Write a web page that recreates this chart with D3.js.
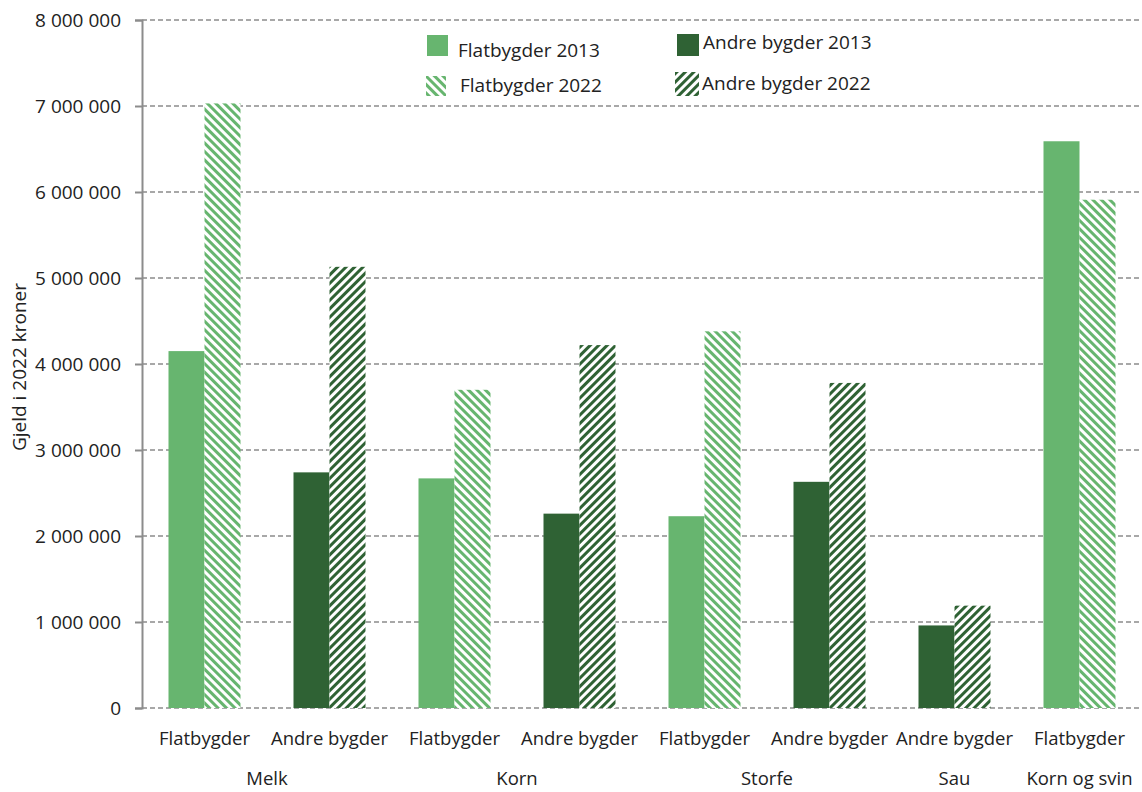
<!DOCTYPE html>
<meta charset="utf-8">
<script src="https://d3js.org/d3.v7.min.js"></script>
<style>
  body { margin: 0; background: #fff; }
  text { font-family: "Open Sans", "Noto Sans", sans-serif; fill: #222; }
</style>
<div id="chart"></div>
<script>

// categories (lower / upper axis labels)
var regions = ["Flatbygder", "Andre bygder", "Flatbygder", "Andre bygder", "Flatbygder", "Andre bygder", "Andre bygder", "Flatbygder"];
var productions = ["Melk", "Melk", "Korn", "Korn", "Storfe", "Storfe", "Sau", "Korn og svin"];
var groupNames = ["Melk", "Korn", "Storfe", "Sau", "Korn og svin"];

// debt values, 2022 kroner
var debt2013 = [4150000, 2740000, 2670000, 2260000, 2230000, 2630000, 960000, 6590000];
var debt2022 = [7030000, 5130000, 3700000, 4220000, 4380000, 3780000, 1190000, 5910000];

var yTicks = [0, 1000000, 2000000, 3000000, 4000000, 5000000, 6000000, 7000000, 8000000];

var lightGreen = "#67b56f", darkGreen = "#2f6234";

var width = 1142, height = 792;
var margin = {left: 142, right: 0, top: 20, bottom: 84};

var svg = d3.select("#chart").append("svg")
  .attr("width", width)
  .attr("height", height);

// hatch patterns
var defs = svg.append("defs");
function hatch(id, color, angle) {
  var p = defs.append("pattern")
    .attr("id", id)
    .attr("patternUnits", "userSpaceOnUse")
    .attr("width", 6)
    .attr("height", 6)
    .attr("patternTransform", "rotate(" + angle + ")");
  p.append("rect").attr("width", 6).attr("height", 6).attr("fill", "#fff");
  p.append("rect").attr("x", 0).attr("width", 3).attr("height", 6).attr("fill", color);
}
hatch("hatchFlat", lightGreen, -45);
hatch("hatchAndre", darkGreen, 45);

function fill2013(i) { return regions[i] == "Flatbygder" ? lightGreen : darkGreen; }
function fill2022(i) { return regions[i] == "Flatbygder" ? "url(#hatchFlat)" : "url(#hatchAndre)"; }

var idx = d3.range(regions.length);

var x = d3.scaleBand()
  .domain(idx)
  .range([margin.left, width - margin.right]);

var y = d3.scaleLinear()
  .domain([0, 8000000])
  .range([height - margin.bottom, margin.top]);

var fmt = function(d) { return d3.format(",")(d).replace(/,/g, " "); };

// gridlines
svg.append("g")
  .selectAll("line")
  .data(yTicks)
  .enter()
  .append("line")
    .attr("x1", margin.left)
    .attr("x2", width - margin.right)
    .attr("y1", function(d) { return y(d); })
    .attr("y2", function(d) { return y(d); })
    .attr("stroke", "#8c8c8c")
    .attr("stroke-width", 1.5)
    .attr("stroke-dasharray", "5,3");

// Y axis
var yAxis = svg.append("g")
  .attr("transform", "translate(" + margin.left + ",0)")
  .call(d3.axisLeft(y).tickValues(yTicks).tickFormat(fmt).tickSize(7).tickPadding(14));
yAxis.select(".domain").attr("stroke", "#8c8c8c").attr("stroke-width", 2);
yAxis.selectAll(".tick line").attr("stroke", "#8c8c8c").attr("stroke-width", 2);
yAxis.selectAll(".tick text")
  .style("font-family", "'Open Sans', sans-serif")
  .style("font-size", "19px")
  .attr("fill", "#222");

// bars
var barW = 36;
var bars = svg.append("g");
bars.selectAll(".b13")
  .data(idx)
  .enter()
  .append("rect")
    .attr("class", "b13")
    .attr("x", function(i) { return x(i) + x.bandwidth() / 2 - barW; })
    .attr("y", function(i) { return y(debt2013[i]); })
    .attr("width", barW)
    .attr("height", function(i) { return y(0) - y(debt2013[i]); })
    .attr("fill", function(i) { return fill2013(i); });
bars.selectAll(".b22")
  .data(idx)
  .enter()
  .append("rect")
    .attr("class", "b22")
    .attr("x", function(i) { return x(i) + x.bandwidth() / 2; })
    .attr("y", function(i) { return y(debt2022[i]); })
    .attr("width", barW)
    .attr("height", function(i) { return y(0) - y(debt2022[i]); })
    .attr("fill", function(i) { return fill2022(i); });

// category labels
svg.append("g")
  .selectAll("text")
  .data(idx)
  .enter()
  .append("text")
    .attr("x", function(i) { return x(i) + x.bandwidth() / 2; })
    .attr("y", 745)
    .attr("text-anchor", "middle")
    .style("font-size", "18.5px")
    .text(function(i) { return regions[i]; });

// group labels, centred under their categories
svg.append("g")
  .selectAll("text")
  .data(groupNames)
  .enter()
  .append("text")
    .attr("x", function(g) {
      var members = idx.filter(function(i) { return productions[i] == g; });
      return d3.mean(members, function(i) { return x(i) + x.bandwidth() / 2; });
    })
    .attr("y", 785)
    .attr("text-anchor", "middle")
    .style("font-size", "18.5px")
    .text(function(g) { return g; });

// Y axis title
svg.append("text")
  .attr("transform", "translate(26,367) rotate(-90)")
  .attr("text-anchor", "middle")
  .style("font-size", "19px")
  .text("Gjeld i 2022 kroner");

// legend
var legend = [
  {label: "Flatbygder 2013", fill: lightGreen, bx: 427, by: 35, bs: 21, tx: 458, ty: 57},
  {label: "Andre bygder 2013", fill: darkGreen, bx: 677, by: 34, bs: 22, tx: 703, ty: 49},
  {label: "Flatbygder 2022", fill: "url(#hatchFlat)", bx: 426, by: 76, bs: 20, tx: 460, ty: 92},
  {label: "Andre bygder 2022", fill: "url(#hatchAndre)", bx: 675, by: 72, bs: 24, tx: 702, ty: 90}
];
var lg = svg.append("g");
lg.selectAll("rect")
  .data(legend)
  .enter()
  .append("rect")
    .attr("x", function(d) { return d.bx; })
    .attr("y", function(d) { return d.by; })
    .attr("width", function(d) { return d.bs; })
    .attr("height", function(d) { return d.bs; })
    .attr("fill", function(d) { return d.fill; });
lg.selectAll("text")
  .data(legend)
  .enter()
  .append("text")
    .attr("x", function(d) { return d.tx; })
    .attr("y", function(d) { return d.ty; })
    .style("font-size", "19px")
    .text(function(d) { return d.label; });

</script>
